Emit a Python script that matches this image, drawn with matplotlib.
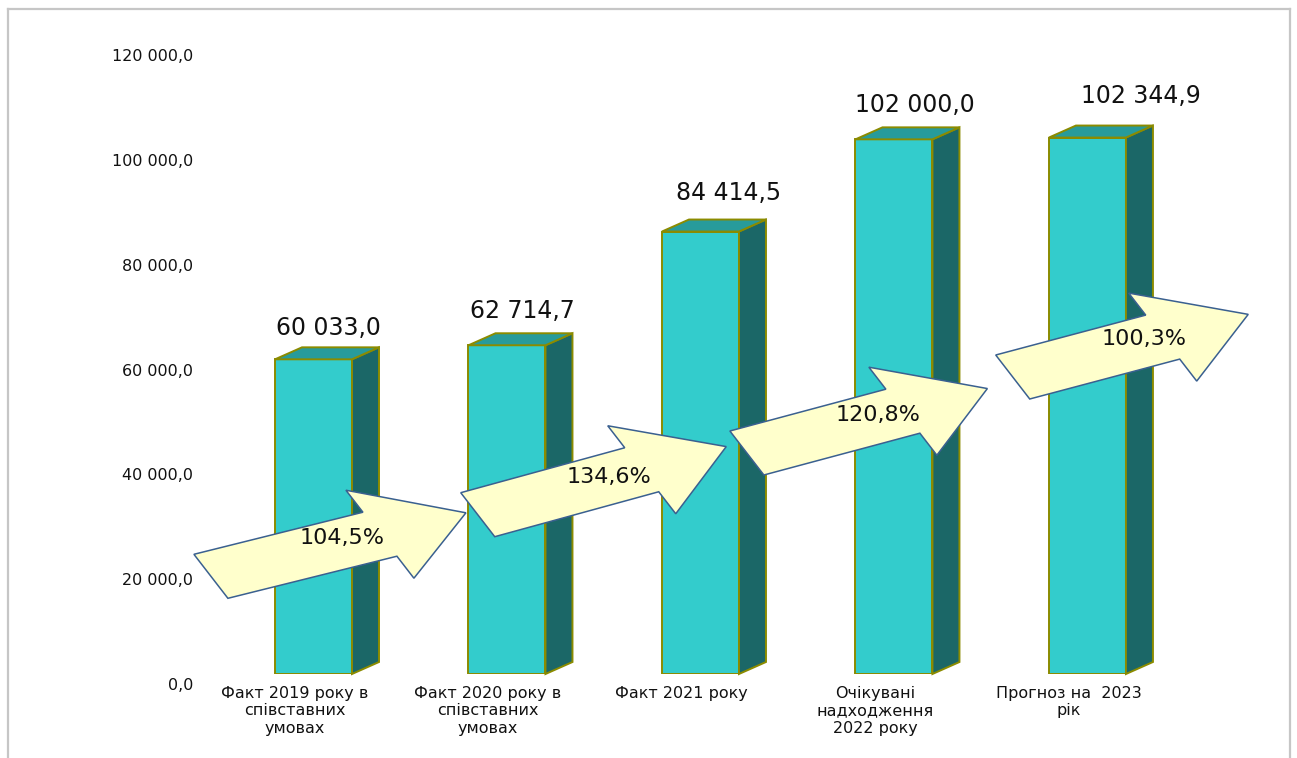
import matplotlib
matplotlib.use("Agg")
import matplotlib.pyplot as plt
from matplotlib.patches import Polygon
from matplotlib.lines import Line2D
from matplotlib.transforms import ScaledTranslation, IdentityTransform
import numpy as np

# ---------------- data ----------------
categories = ["Факт 2019 року в\nспівставних\nумовах",
              "Факт 2020 року в\nспівставних\nумовах",
              "Факт 2021 року",
              "Очікувані\nнадходження\n2022 року",
              "Прогноз на  2023\nрік"]
values = [60033.0, 62714.7, 84414.5, 102000.0, 102344.9]
y_ticks = [0, 20000, 40000, 60000, 80000, 100000, 120000]


def fmt_num(v):
    return f"{v:,.1f}".replace(",", " ").replace(".", ",")


growth = [values[i + 1] / values[i] * 100 for i in range(len(values) - 1)]
growth_labels = [f"{g:.1f}%".replace(".", ",") for g in growth]

# ---------------- layout / style ----------------
W, H = 1297, 758
FRONT = "#33CCCC"
SIDE = "#1B6767"
TOP = "#279B9B"
EDGE = "#8B8B00"
ARROW_FILL = "#FFFFCC"
ARROW_EDGE = "#3A6090"
DEPTH_DX, DEPTH_DY = 27, 12          # px, 3-D depth of bars
BAR_W = 0.398

# value label offsets (px) relative to front-face top centre
lab_dx = [14.5, 15.5, 28, 20.5, 53.5]
lab_dy = [31, 34, 39, 34, 42]

# growth arrows: tail-upper corner anchors (category units, value units)
arrow_ax = [-0.618, 0.761, 2.152, 3.526]
arrow_ay = [22836, 34589, 46359, 60858]
arrow_slope = [0.249, 0.274, 0.268, 0.266]
arrow_shaft = [169, 164, 156, 150]
arrow_head = [86, 84.5, 84.5, 85.5]
ARROW_V = np.array([34.0, -44.0])    # px, skewed tail direction

fig = plt.figure(figsize=(W / 100, H / 100), dpi=100)
fig.patch.set_facecolor("white")

left_px, right_px = 197.4, 1251.9
bottom_px, top_px = 674, 45
ax = fig.add_axes([left_px / W, (H - bottom_px) / H,
                   (right_px - left_px) / W, (bottom_px - top_px) / H])
ax.set_xlim(-0.6, 4.85)
ax.set_ylim(0, 120000)
for sp in ax.spines.values():
    sp.set_visible(False)
ax.set_xticks([])
ax.set_yticks(y_ticks)
ax.set_yticklabels([fmt_num(t) for t in y_ticks], fontsize=11.5, color="#111111")
ax.tick_params(axis="y", length=0, pad=3.2)
off = ScaledTranslation(0, -10 / 100, fig.dpi_scale_trans)
for lab in ax.get_yticklabels():
    lab.set_transform(lab.get_transform() + off)

x = np.arange(len(values))
ax.bar(x, values, width=BAR_W, color=FRONT, edgecolor=EDGE, linewidth=1.4, zorder=2)

T = ax.transData
for i, v in enumerate(values):
    xl, xr = x[i] - BAR_W / 2, x[i] + BAR_W / 2
    (p_r0x, p_r0y) = T.transform((xr, 0))
    (p_rtx, p_rty) = T.transform((xr, v))
    (p_ltx, p_lty) = T.transform((xl, v))
    side = [(p_r0x, p_r0y), (p_rtx, p_rty),
            (p_rtx + DEPTH_DX, p_rty + DEPTH_DY), (p_r0x + DEPTH_DX, p_r0y + DEPTH_DY)]
    top = [(p_ltx, p_lty), (p_rtx, p_rty),
           (p_rtx + DEPTH_DX, p_rty + DEPTH_DY), (p_ltx + DEPTH_DX, p_lty + DEPTH_DY)]
    for verts, col in ((side, SIDE), (top, TOP)):
        ax.add_patch(Polygon(verts, closed=True, facecolor=col, edgecolor=EDGE,
                             linewidth=1.4, transform=IdentityTransform(),
                             clip_on=False, zorder=2))
    ax.text(x[i], v, fmt_num(v), fontsize=17, ha="center", va="center", color="#111111",
            transform=T + ScaledTranslation(lab_dx[i] / 100, lab_dy[i] / 100,
                                            fig.dpi_scale_trans), zorder=6)
    ax.text(x[i], 0, categories[i], fontsize=11.5, ha="center", va="top",
            linespacing=1.2, color="#111111",
            transform=T + ScaledTranslation(-19 / 100, -12 / 100, fig.dpi_scale_trans))

# growth arrows
for k in range(len(growth_labels)):
    O = np.array(T.transform((arrow_ax[k], arrow_ay[k])))
    U = np.array([1.0, arrow_slope[k]])
    Ls, Lh = arrow_shaft[k], arrow_head[k]
    local = [(0, 0), (Ls, 0), (Ls, -0.5), (Ls + Lh, 0.5), (Ls, 1.5), (Ls, 1), (0, 1)]
    pts = [O + a * U + b * ARROW_V for a, b in local]
    ax.add_patch(Polygon(pts, closed=True, facecolor=ARROW_FILL, edgecolor=ARROW_EDGE,
                         linewidth=1.1, transform=IdentityTransform(), clip_on=False,
                         zorder=5))
    cx, cy = O + np.array([148, 16])
    ax.text(cx, cy, growth_labels[k], fontsize=16, ha="center", va="center",
            color="#111111", transform=IdentityTransform(), zorder=6)

# outer frame
fc = "#C6C6C6"
fig.add_artist(Line2D([8 / W, 8 / W], [0, 1 - 9 / H], transform=fig.transFigure, color=fc, lw=1.6))
fig.add_artist(Line2D([8 / W, 1290 / W], [1 - 9 / H, 1 - 9 / H], transform=fig.transFigure, color=fc, lw=1.6))
fig.add_artist(Line2D([1290 / W, 1290 / W], [0, 1 - 9 / H], transform=fig.transFigure, color=fc, lw=1.6))

fig.savefig("out.png", dpi=100, facecolor="white")
